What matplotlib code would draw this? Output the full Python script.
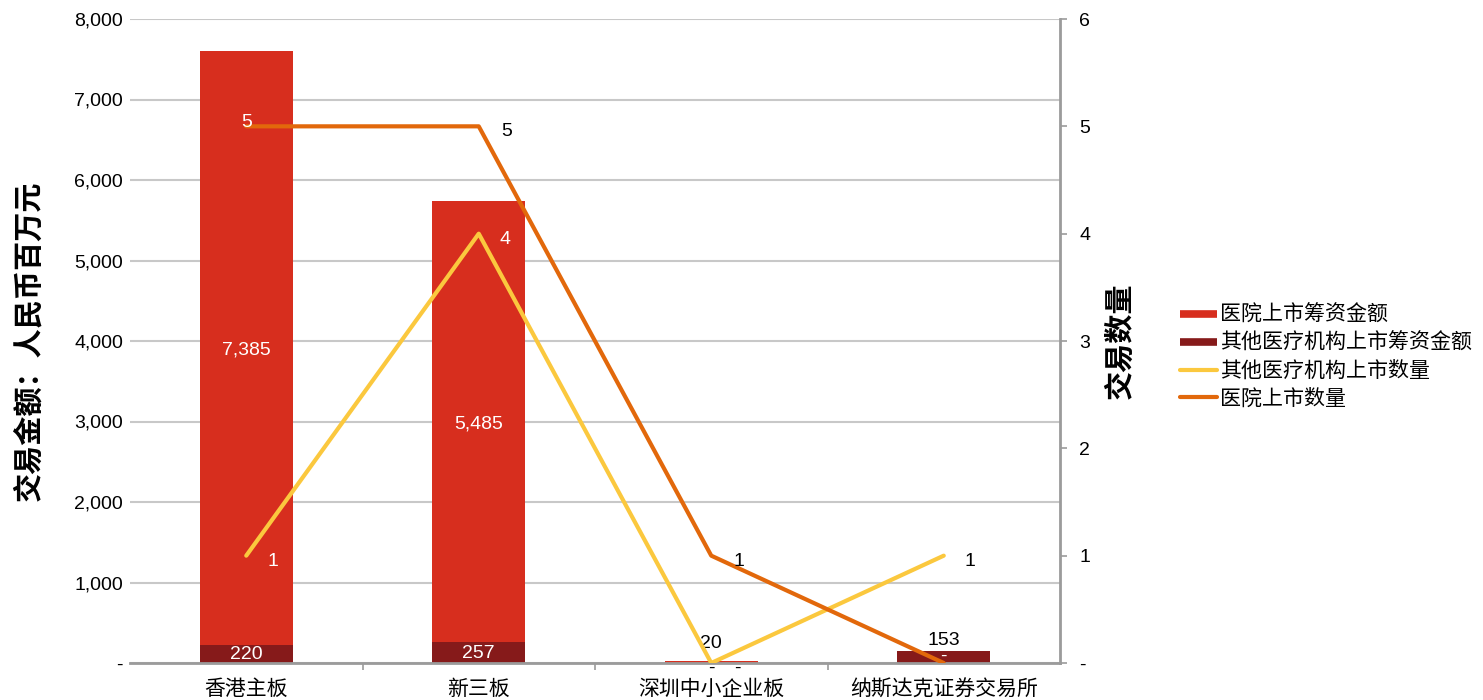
import matplotlib.pyplot as plt
from matplotlib.lines import Line2D
import numpy as np

plt.rcParams['font.family'] = ['Liberation Sans', 'Noto Sans CJK SC']

# Data
categories = ['香港主板', '新三板', '深圳中小企业板', '纳斯达克证券交易所']
hospital_amount = [7385, 5485, 20, 0]     # 医院上市筹资金额
other_amount = [220, 257, 0, 153]          # 其他医疗机构上市筹资金额
other_count = [1, 4, 0, 1]                 # 其他医疗机构上市数量
hospital_count = [5, 5, 1, 0]              # 医院上市数量

c_hosp_bar = '#D72E1E'
c_other_bar = '#861A1A'
c_other_line = '#FBC83E'
c_hosp_line = '#E2680B'
grey = '#9B9B9B'

fig = plt.figure(figsize=(14.83, 7.0), dpi=100)
ax = fig.add_axes([130 / 1483, 1 - 663 / 700, 930 / 1483, 644 / 700])
ax2 = ax.twinx()

x = np.arange(len(categories))
w = 0.4
ax.bar(x, other_amount, w, color=c_other_bar, zorder=2)
ax.bar(x, hospital_amount, w, bottom=other_amount, color=c_hosp_bar, zorder=2)

ax.set_xlim(-0.5, len(categories) - 0.5)
ax.set_ylim(0, 8000)
ax.set_yticks(range(0, 8001, 1000))
ax.set_yticklabels(['-'] + [f'{v:,}' for v in range(1000, 8001, 1000)], fontsize=14)
ax.yaxis.grid(True, color='#C8C8C8', lw=1.5, zorder=0)
ax.set_axisbelow(True)
ax.tick_params(axis='y', length=0, pad=5)
ax.set_xticks(x)
ax.set_xticklabels(categories, fontsize=15, family=['Noto Sans CJK SC'])
ax.set_xticks([0.5, 1.5, 2.5], minor=True)
ax.tick_params(axis='x', which='major', length=0, pad=11)
ax.tick_params(axis='x', which='minor', length=5, color=grey, width=1.2)
for s in ['left', 'top', 'right']:
    ax.spines[s].set_visible(False)
ax.spines['bottom'].set_color(grey)
ax.spines['bottom'].set_linewidth(2)
ax.set_ylabel('交易金额：人民币百万元', fontsize=21, fontweight='bold', labelpad=22)

# Bar value labels
for i in range(len(categories)):
    o, h = other_amount[i], hospital_amount[i]
    if o >= 200:
        ax.text(i, o / 2 + 20, f'{o:,}', ha='center', va='center_baseline', color='white', fontsize=14)
    elif o > 0:
        ax.text(i, o + 20, f'{o:,}', ha='center', va='bottom', color='black', fontsize=14)
    else:
        ax.text(i, -70, '-', ha='center', va='center', color='black', fontsize=14)
    if h >= 200:
        ax.text(i, o + h / 2, f'{h:,}', ha='center', va='center_baseline', color='white', fontsize=14)
    elif h > 0:
        ax.text(i, o + h + 120, f'{h:,}', ha='center', va='bottom', color='black', fontsize=14)
    else:
        ax.text(i, o - 70, '-', ha='center', va='center', color='white', fontsize=14)

# Count lines on the right axis
ax2.plot(x, other_count, color=c_other_line, lw=3, zorder=3, solid_capstyle='round')
ax2.plot(x, hospital_count, color=c_hosp_line, lw=3, zorder=3, solid_capstyle='round')
ax2.set_ylim(0, 6)
ax2.set_yticks(range(0, 7))
ax2.set_yticklabels(['-'] + [str(v) for v in range(1, 7)], fontsize=14)
ax2.tick_params(axis='y', length=5, color=grey, width=1.2, pad=9)
for s in ['left', 'top', 'bottom']:
    ax2.spines[s].set_visible(False)
ax2.spines['right'].set_color(grey)
ax2.spines['right'].set_linewidth(2)
ax2.set_ylabel('交易数量', fontsize=21, fontweight='bold', labelpad=11)

for i, v in enumerate(other_count):
    txt = '-' if v == 0 else str(v)
    col = 'white' if i < 2 else 'black'
    ax2.annotate(txt, (i, v), xytext=(19, -4), textcoords='offset points',
                 ha='center', va='center', color=col, fontsize=14)
for i, v in enumerate(hospital_count):
    if v == 0:
        continue
    if i == 0:
        ax2.annotate(str(v), (i, v), xytext=(0, 3), textcoords='offset points',
                     ha='center', va='center', color='white', fontsize=14)
    else:
        ax2.annotate(str(v), (i, v), xytext=(20, -4), textcoords='offset points',
                     ha='center', va='center', color='black', fontsize=14)

handles = [
    Line2D([], [], color=c_hosp_bar, lw=5.5, solid_capstyle='butt'),
    Line2D([], [], color=c_other_bar, lw=5.5, solid_capstyle='butt'),
    Line2D([], [], color=c_other_line, lw=3, solid_capstyle='round'),
    Line2D([], [], color=c_hosp_line, lw=3, solid_capstyle='round'),
]
labels = ['医院上市筹资金额', '其他医疗机构上市筹资金额', '其他医疗机构上市数量', '医院上市数量']
fig.legend(handles, labels, loc='center left', bbox_to_anchor=(1161 / 1483, 1 - 357 / 700),
           frameon=False, handlelength=1.75, handletextpad=0.15,
           labelspacing=0.28, prop={'family': ['Noto Sans CJK SC'], 'size': 15.1})

fig.savefig('out.png', dpi=100)
